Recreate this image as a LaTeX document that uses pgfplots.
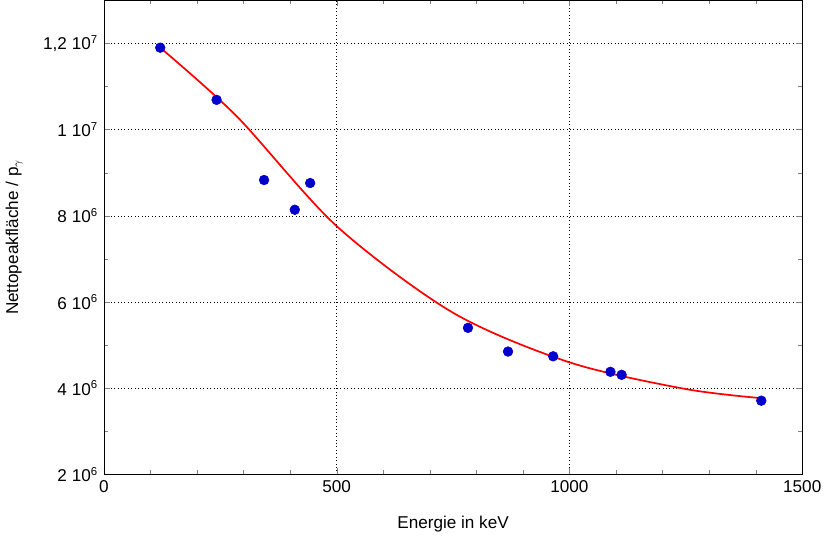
\documentclass[border=0pt]{standalone}
\usepackage{pgfplots}
\pgfplotsset{compat=1.18}
\usepackage{fontspec}
\setmainfont{Liberation Sans}
\begin{document}
\fontsize{12}{14}\selectfont
\begin{tikzpicture}
\begin{axis}[
  scale only axis, width=489pt, height=332pt,
  xmin=0, xmax=1500, ymin=2, ymax=13,
  xtick={0,500,1000,1500},
  ytick={2,4,6,8,10,12},
  yticklabels={2 10\textsuperscript{6},4 10\textsuperscript{6},6 10\textsuperscript{6},8 10\textsuperscript{6},1 10\textsuperscript{7},{1,2 10\textsuperscript{7}}},
  minor x tick num=4, minor y tick num=1,
  tick align=inside, ticks=both,
  xtick pos=both, ytick pos=both,
  grid=major, major grid style={black, dotted},
  /pgf/number format/assume math mode=true,
  /pgf/number format/1000 sep={},
  xlabel={Energie in keV}, ylabel={Nettopeakfläche / p$_\gamma$},
  xlabel style={yshift=-8pt}, ylabel style={yshift=6pt},
  axis line style={black},
]
\addplot[red, line width=1.2pt, smooth] coordinates {
(121,11.9) (286,10.3) (500,7.76) (750,5.75) (1000,4.6) (1250,3.98) (1421,3.76)};
\addplot[only marks, mark=*, mark size=3.4pt, color={rgb,255:red,0;green,0;blue,204}] coordinates {
(121,11.9) (242,10.69) (344,8.83) (410,8.14) (443,8.76) (782,5.40) (868,4.85) (965,4.74) (1088,4.38) (1112,4.31) (1412,3.71)};
\end{axis}
\end{tikzpicture}
\end{document}
